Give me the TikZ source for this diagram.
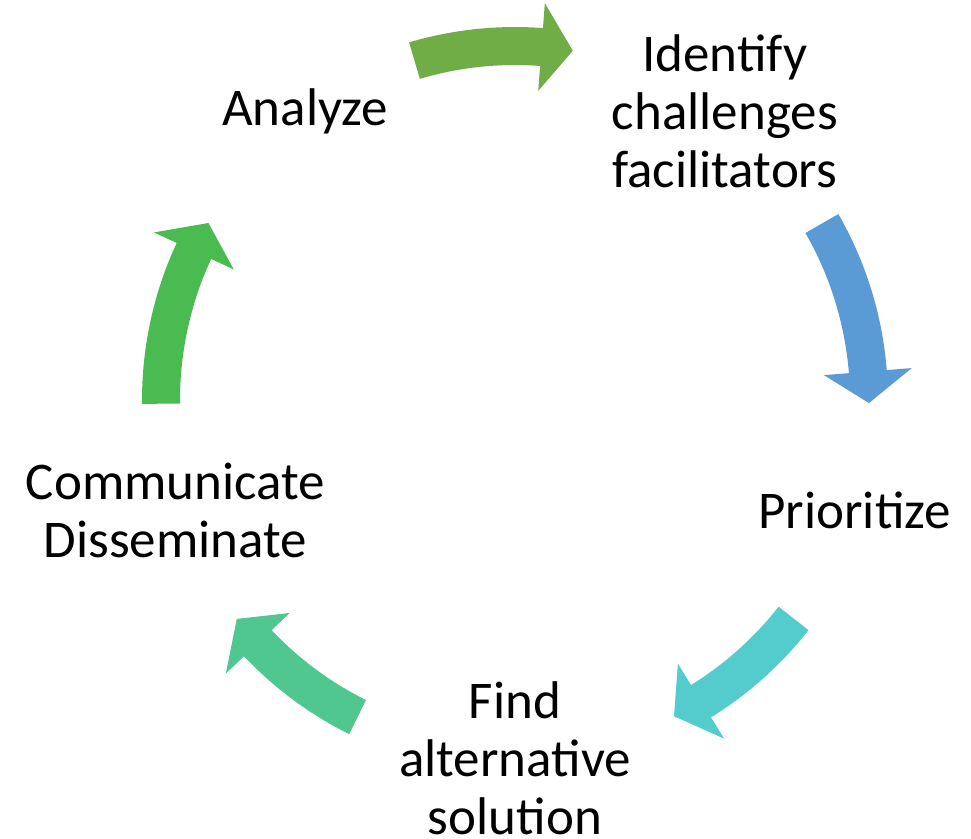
\documentclass[tikz,border=0pt]{standalone}
\usepackage{fontspec}
\setmainfont{Carlito}
\definecolor{analyzegreen}{HTML}{70AD47}
\definecolor{identifyblue}{HTML}{5B9BD5}
\definecolor{prioritizeteal}{HTML}{54CBCC}
\definecolor{findmint}{HTML}{4FC78F}
\definecolor{commgreen}{HTML}{4ABB50}
% curved block arrow on the cycle: colour, tail angle, head base angle, tip angle
\newcommand{\cyclearrow}[4]{\fill[#1] (#2:373pt) arc[start angle=#2,end angle=#3,radius=373pt] -- (#3:398pt) -- (#4:354pt) -- (#3:310pt) -- (#3:335pt) arc[start angle=#3,end angle=#2,radius=335pt] -- cycle}

\begin{document}
\begin{tikzpicture}[x=1pt,y=1pt,
    steplabel/.style={align=center,inner sep=0pt,font=\fontsize{53}{58}\selectfont}]
					\useasboundingbox (-515,-438) rectangle (456,400);
					
					\node[steplabel] at (126:357pt) (analyze) {Analyze};
					\node[steplabel] at (54:357pt) (identify) {Identify\\challenges\\facilitators};
					\node[steplabel] at (-18:357pt) (prioritize) {Prioritize};
					\node[steplabel] at (-90:358pt) (find) {Find\\alternative\\solution};
					\node[steplabel] at (-162:357pt) (communicate) {Communicate\\Disseminate};
					
					\cyclearrow{analyzegreen}{106.5}{85.7}{80.6};
					\cyclearrow{identifyblue}{29.9}{4.6}{-0.5};
					\cyclearrow{prioritizeteal}{-38.1}{-58.3}{-63.3};
					\cyclearrow{findmint}{-116.4}{-136.6}{-141.8};
					\cyclearrow{commgreen}{180.6}{155.1}{150};
				\end{tikzpicture}
\end{document}
